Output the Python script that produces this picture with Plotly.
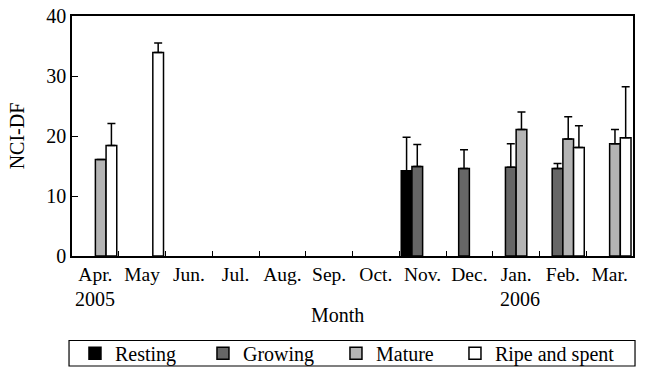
import plotly.graph_objects as go

months = ['Apr.', 'May', 'Jun.', 'Jul.', 'Aug.', 'Sep.', 'Oct.', 'Nov.', 'Dec.', 'Jan.', 'Feb.', 'Mar.']

resting = [None, None, None, None, None, None, None, 14.2, None, None, None, None]
resting_err = [None, None, None, None, None, None, None, 5.6, None, None, None, None]

growing = [None, None, None, None, None, None, None, 14.9, 14.6, 14.8, 14.6, None]
growing_err = [None, None, None, None, None, None, None, 3.7, 3.1, 3.9, 0.8, None]

mature = [16.1, None, None, None, None, None, None, None, None, 21.1, 19.5, 18.7]
mature_err = [None, None, None, None, None, None, None, None, None, 2.9, 3.7, 2.4]

ripe = [18.4, 33.9, None, None, None, None, None, None, None, None, 18.1, 19.7]
ripe_err = [3.7, 1.6, None, None, None, None, None, None, None, None, 3.6, 8.5]

series = [
    ('Resting', resting, resting_err, '#000000', 83),
    ('Growing', growing, growing_err, '#666666', 88),
    ('Mature', mature, mature_err, '#b4b4b4', 74),
    ('Ripe and spent', ripe, ripe_err, '#ffffff', 125),
]

FONT = 'Liberation Serif'
FS = 20

fig = go.Figure()
for name, vals, errs, color, lw in series:
    fig.add_trace(go.Bar(
        name=name, x=months, y=vals,
        marker=dict(color=color, line=dict(color='#000000', width=1.5)),
        error_y=dict(type='data', symmetric=False, array=errs,
                     arrayminus=[0 if e is not None else None for e in errs],
                     color='#000000', thickness=1.5, width=4),
        legendwidth=lw,
    ))

fig.update_layout(
    width=645, height=368,
    margin=dict(l=72, r=12, t=16, b=112, autoexpand=False),
    paper_bgcolor='white', plot_bgcolor='white',
    font=dict(family=FONT, size=FS, color='#000000'),
    barmode='group', bargap=0.085, bargroupgap=0,
    showlegend=True,
    legend=dict(orientation='h', x=0.0053, xanchor='left', y=-0.405, yanchor='middle',
                borderwidth=0, font=dict(family=FONT, size=FS),
                bgcolor='rgba(0,0,0,0)'),
    xaxis=dict(type='category', tickson='boundaries', ticks='inside', ticklen=5,
               tickwidth=1, tickcolor='#000000', showline=True, linecolor='#000000',
               linewidth=1.5, mirror=True, showgrid=False, zeroline=False,
               tickangle=0, tickfont=dict(family=FONT, size=19.5)),
    yaxis=dict(range=[0, 40], dtick=10, ticks='inside', ticklen=6, tickwidth=1,
               tickcolor='#000000', showline=True, linecolor='#000000', linewidth=1.5,
               mirror=True, showgrid=False, zeroline=False,
               tickfont=dict(family=FONT, size=FS),
               title=dict(text='NCI-DF', font=dict(family=FONT, size=FS), standoff=16)),
    shapes=[
        dict(type='rect', xref='paper', yref='paper', x0=-0.0053, x1=1.0036,
             y0=-0.4583, y1=-0.3521, line=dict(color='#000000', width=1.2),
             fillcolor='rgba(0,0,0,0)', layer='below'),
    ],
    annotations=[
        dict(text='Month', xref='paper', yref='paper', x=0.474, y=-0.246,
             xanchor='center', yanchor='middle', showarrow=False,
             font=dict(family=FONT, size=FS)),
        dict(text='2005', xref='x', yref='paper', x='Apr.', y=-0.18,
             xanchor='center', yanchor='middle', showarrow=False,
             font=dict(family=FONT, size=FS)),
        dict(text='2006', xref='x', yref='paper', x='Jan.', y=-0.18, xshift=4,
             xanchor='center', yanchor='middle', showarrow=False,
             font=dict(family=FONT, size=FS)),
    ],
)

fig.write_html('out.html')
